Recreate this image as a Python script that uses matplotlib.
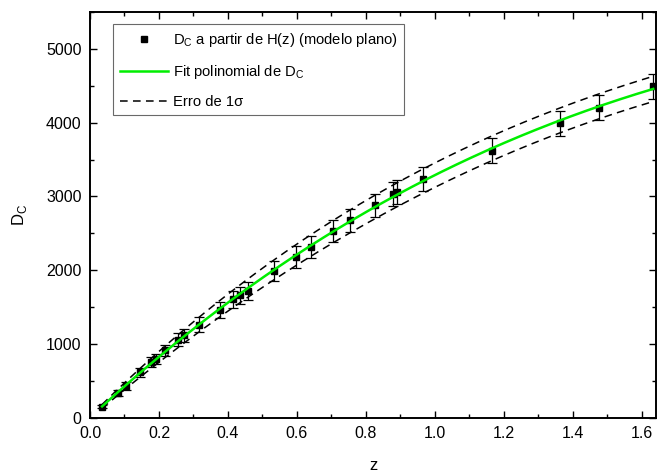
import numpy as np
import matplotlib
matplotlib.use("Agg")
import matplotlib.pyplot as plt
from matplotlib.ticker import MultipleLocator

plt.rcParams['font.family'] = ['Liberation Sans', 'DejaVu Sans']
plt.rcParams['mathtext.fontset'] = 'custom'
plt.rcParams['mathtext.rm'] = 'Liberation Sans'

# D_C values
z = [0.035, 0.082, 0.105, 0.144, 0.177, 0.19, 0.217, 0.256, 0.272, 0.316,
     0.376, 0.415, 0.435, 0.459, 0.535, 0.597, 0.64, 0.704, 0.754, 0.826,
     0.880, 0.890, 0.967, 1.165, 1.363, 1.478, 1.634]
dc = [155, 340, 435, 620, 755, 800, 915, 1060, 1120, 1265,
      1460, 1605, 1660, 1720, 1990, 2180, 2315, 2530, 2675, 2880,
      3035, 3060, 3235, 3620, 3990, 4200, 4490]
dc_err = [25, 40, 50, 60, 70, 70, 75, 85, 90, 97,
          110, 115, 120, 125, 135, 145, 148, 152, 155, 158,
          160, 160, 162, 168, 170, 170, 170]

z = np.array(z)
dc = np.array(dc)
dc_err = np.array(dc_err)

# polynomial fit and 1-sigma band
zz = np.linspace(z.min(), z.max(), 300)
fit = np.polyval(np.polyfit(z, dc, 3), zz)
upper = np.polyval(np.polyfit(z, dc + dc_err, 3), zz)
lower = np.polyval(np.polyfit(z, dc - dc_err, 3), zz)

fig = plt.figure(figsize=(6.57, 4.75), dpi=100)
ax = fig.add_axes([0.137, 0.12, 0.8615, 0.855])

ax.errorbar(z, dc, yerr=dc_err, fmt='none', ecolor='black', elinewidth=0.9,
            capsize=3.5, capthick=0.9, zorder=2)
ax.plot(z, dc, 's', color='black', markersize=5,
        label=r'D$_\mathregular{C}$ a partir de H(z) (modelo plano)', zorder=3)
ax.plot(zz, fit, color='#00ee00', lw=1.8,
        label=r'Fit polinomial de D$_\mathregular{C}$', zorder=4)
ax.plot(zz, upper, '--', color='black', lw=1.1, dashes=(5, 3.5),
        label='Erro de 1σ', zorder=1)
ax.plot(zz, lower, '--', color='black', lw=1.1, dashes=(5, 3.5), zorder=1)

ax.set_xlim(0, 1.642)
ax.set_ylim(0, 5500)
ax.xaxis.set_major_locator(MultipleLocator(0.2))
ax.xaxis.set_minor_locator(MultipleLocator(0.1))
ax.yaxis.set_major_locator(MultipleLocator(1000))
ax.yaxis.set_minor_locator(MultipleLocator(500))
ax.xaxis.set_major_formatter(plt.FuncFormatter(lambda v, p: f'{v:.1f}'))
ax.tick_params(which='both', direction='in', top=True, right=True,
               labelsize=11.5, width=1)
ax.tick_params(which='major', length=5, pad=6)
ax.tick_params(which='minor', length=3)
for s in ax.spines.values():
    s.set_linewidth(1.4)

ax.set_xlabel('z', fontsize=12, labelpad=12)
ax.set_ylabel(r'D$_\mathregular{C}$', fontsize=12, labelpad=12)

leg = ax.legend(loc='upper left', bbox_to_anchor=(0.041, 0.970), fontsize=10.6,
                frameon=True, fancybox=False, edgecolor='#444444',
                handlelength=3.3, borderpad=0.45, labelspacing=0.95,
                handletextpad=0.3, borderaxespad=0)
leg.get_frame().set_linewidth(0.8)

fig.savefig('out.png', dpi=100)
